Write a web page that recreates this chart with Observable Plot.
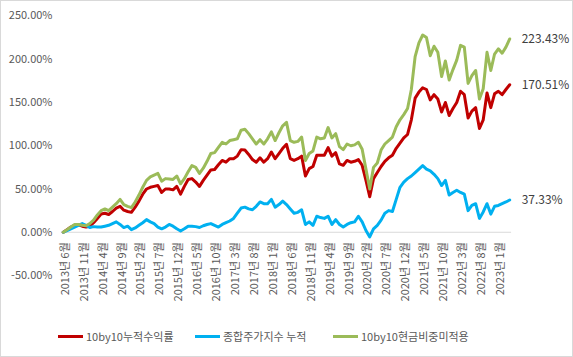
<!DOCTYPE html>
<html>
<head>
<meta charset="utf-8">
<script src="https://cdn.jsdelivr.net/npm/d3@7"></script>
<script src="https://cdn.jsdelivr.net/npm/@observablehq/plot@0.6"></script>
<style>
  html, body { margin: 0; padding: 0; background: #fff; }
  #wrap { position: relative; width: 573px; height: 357px; box-sizing: border-box; border: 1px solid #d9d9d9; overflow: hidden; font-family: "Noto Sans CJK KR", "Noto Sans", sans-serif; }
  #chart { position: absolute; left: -1px; top: -1px; }
  #legend { position: absolute; left: -1px; top: 314px; width: 573px; height: 42px; font-size: 11px; color: #595959; }
  .item { position: absolute; top: 12px; height: 18px; display: flex; align-items: center; white-space: nowrap; }
  .sw { display: inline-block; width: 25px; height: 3px; margin-right: 3px; }
</style>
</head>
<body>
<div id="wrap">
  <div id="chart"></div>
  <div id="legend"></div>
</div>
<script>
// Series names
const seriesNames = ["10by10누적수익률", "종합주가지수 누적", "10by10현금비중미적용"];
const seriesColors = ["#C00000", "#00B0F0", "#9BBB59"];

// Months: 2013-06 .. 2023-04 (119 monthly points)
const months = d3.range(119).map(i => {
  const y = 2013 + Math.floor((5 + i) / 12);
  const m = ((5 + i) % 12) + 1;
  return `${y}년 ${m}월`;
});

// Category tick labels shown on the axis
const tickLabels = ["2013년 6월","2013년 11월","2014년 4월","2014년 9월","2015년 2월","2015년 7월","2015년 12월","2016년 5월","2016년 10월","2017년 3월","2017년 8월","2018년 1월","2018년 6월","2018년 11월","2019년 4월","2019년 9월","2020년 2월","2020년 7월","2020년 12월","2021년 5월","2021년 10월","2022년 3월","2022년 8월","2023년 1월"];

// Y ticks (percent)
const yTicks = [-50, 0, 50, 100, 150, 200, 250];

// 10by10누적수익률 (%)
const red = [0,3,6,8,8.5,7,6,7,11,16,21,22,20.5,24,28,30,25.5,24,23,29,
36,44,50,52,53,54,46,50,50,49,53,44,53,61,62,58,53,60,66,72,
72.5,78,83,81,85,85,88,95.5,95,90,84,81,86,81,85,92.7,85,91,97,101.6,
85,83,85,88,65,73.5,76,89,89,89,97.8,88,92,79,77.4,83,81,82,84,77.4,
60,41,62,69,76,82,86,89,97,103,109,113,130,155,162,167,165,153,159,154,
139,150,135,143,150,163,159,132,140,144,120,130,161,144,160,163,159,165,170.51];

// 종합주가지수 누적 (%)
const blue = [0,2,4,6,8,10,8,5.5,6.5,6,6,7,8,10,12,9,5.4,7,3,5,
8,11,14.6,12,10,6,4,6,9,7,4,1.5,4,7,7,6.5,5.5,7.5,9,10,
8,6,9,11,13,16,22,28,29,27,26,30,35,33,33,38,29,32,36,32,
27,22,23,26,9,12,8,18.5,17,16,18.5,9,14.6,9,6,9,11,12,18.5,12,
2,-5.4,4,8,14,22,25,24,38,52,58,62,65,69,73,77,73,71,67,62,
54,60,43,46,48.5,46,44,25,31,33,16,23.5,33,21,30,31,33,35,37.33];

// 10by10현금비중미적용 (%)
const green = [0,3,6,9,9,8,7.5,10,14,20,25,27,25,29,33,38,32,30,28.5,35,
43,52,60,64,66,68,59,62,61.5,61,65,56,62,70,77,75,68,74,82,91,
92,98,104,102,106,107,108,118,119,114,108,102,107,102,108,116,106,115,123,127,
106,104,105,110,83,91,94,110,108,109,121,109,114,99,95.5,102,100,101,104,96,
73,50,75,80,95,102,106,110,122,130,136,143,165,203,219,228,225,204,215,208,
180,198,176,188,199,216,214,172,181,187,154,166,208,187,206,212,207,214,223.43];

const seriesValues = [red, blue, green];

const rows = [];
seriesValues.forEach((vals, s) => vals.forEach((v, i) => rows.push({i, v, s: seriesNames[s]})));
const lastRows = seriesValues.map((vals, s) => ({i: vals.length - 1, v: vals[vals.length - 1], s: seriesNames[s]}));
const tickRows = tickLabels.map(t => ({i: months.indexOf(t), label: t}));

const fmt = v => v.toFixed(2) + "%";

const chart = Plot.plot({
  width: 573,
  height: 315,
  marginLeft: 61,
  marginRight: 61,
  marginTop: 15.5,
  marginBottom: 39.5,
  style: {fontFamily: '"Noto Sans CJK KR", "Noto Sans", sans-serif', fontSize: "11px", color: "#595959", background: "transparent"},
  x: {domain: [-0.5, months.length - 0.5], axis: null},
  y: {domain: [-50, 250], ticks: yTicks, tickFormat: fmt, tickSize: 0, tickPadding: 9, label: null},
  color: {domain: seriesNames, range: seriesColors},
  marks: [
    Plot.ruleY([0], {stroke: "#d9d9d9", strokeWidth: 1}),
    Plot.line(rows, {x: "i", y: "v", z: "s", stroke: "s", strokeWidth: 3, strokeLinejoin: "round", strokeLinecap: "round"}),
    Plot.text(tickRows, {x: "i", y: 0, text: "label", rotate: -90, textAnchor: "end", dy: 10, dx: 2, fill: "#595959", fontSize: 11}),
    Plot.text(lastRows, {x: "i", y: "v", text: d => fmt(d.v), textAnchor: "start", dx: 12, fill: "#404040", fontSize: 12})
  ]
});
document.getElementById("chart").appendChild(chart);

const legend = document.getElementById("legend");
const lefts = [58, 195, 333];
seriesNames.forEach((n, k) => {
  const it = document.createElement("div");
  it.className = "item";
  it.style.left = lefts[k] + "px";
  it.innerHTML = `<span class="sw" style="background:${seriesColors[k]}"></span><span>${n}</span>`;
  legend.appendChild(it);
});
</script>
</body>
</html>
